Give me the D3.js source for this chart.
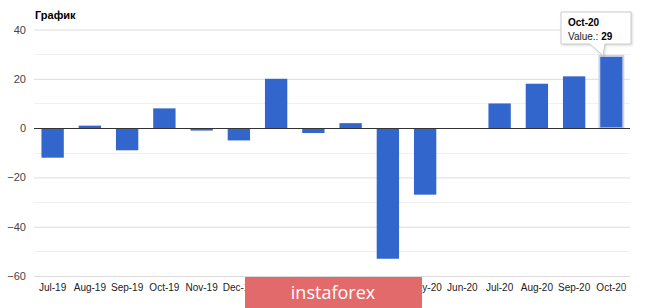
<!DOCTYPE html>
<html>
<head>
<meta charset="utf-8">
<script src="https://cdn.jsdelivr.net/npm/d3@7"></script>
<style>
  body { margin: 0; background: #fff; }
  svg { display: block; font-family: Arial, "Liberation Sans", sans-serif; }
</style>
</head>
<body>
<svg id="chart"></svg>
<script>
// chart data
var months = ['Jul-19', 'Aug-19', 'Sep-19', 'Oct-19', 'Nov-19', 'Dec-19', 'Jan-20', 'Feb-20',
              'Mar-20', 'Apr-20', 'May-20', 'Jun-20', 'Jul-20', 'Aug-20', 'Sep-20', 'Oct-20'];
var values = [-12, 1, -9, 8, -1, -5, 20, -2, 2, -53, -27, 0, 10, 18, 21, 29];
var yTicks = [-60, -40, -20, 0, 20, 40];
var yMinorTicks = [-50, -30, -10, 10, 30];
var chartTitle = 'График';
var tipLabel = 'Value.: ';

var svgWidth = 665, svgHeight = 308;
var svg = d3.select('#chart').attr('width', svgWidth).attr('height', svgHeight);

var x = d3.scaleBand()
    .domain(months)
    .range([34, 630])
    .paddingInner(0.4)
    .paddingOuter(0.2);

var y = d3.scaleLinear()
    .domain([-60, 40])
    .range([276, 29.5]);

// minor grid
svg.append('g').selectAll('line')
    .data(yMinorTicks)
    .enter().append('line')
    .attr('x1', 34).attr('x2', 630)
    .attr('y1', function(d) { return Math.round(y(d)) + 0.5; })
    .attr('y2', function(d) { return Math.round(y(d)) + 0.5; })
    .attr('stroke', '#f0f0f0');

// major grid + labels
var yAxis = d3.axisLeft(y).tickValues(yTicks).tickSize(-596).tickPadding(8);
var gy = svg.append('g').attr('transform', 'translate(34,0)').call(yAxis);
gy.select('.domain').remove();
gy.selectAll('line').attr('stroke', '#dcdcdc');
gy.selectAll('text').attr('fill', '#444').style('font-size', '11px').attr('x', -8);

// bars
svg.append('g').selectAll('rect')
    .data(values)
    .enter().append('rect')
    .attr('x', function(d, i) { return x(months[i]); })
    .attr('width', x.bandwidth())
    .attr('y', function(d) { return y(Math.max(0, d)); })
    .attr('height', function(d) { return Math.abs(y(d) - y(0)); })
    .attr('fill', '#3366cc');

// highlight around last bar
var last = values.length - 1;
svg.append('rect')
    .attr('x', x(months[last]) - 1)
    .attr('y', y(values[last]) - 1)
    .attr('width', x.bandwidth() + 2)
    .attr('height', y(0) - y(values[last]) + 1)
    .attr('fill', 'none')
    .attr('stroke', '#c9d2e6')
    .attr('stroke-width', 1.5);

// zero line
svg.append('line')
    .attr('x1', 34).attr('x2', 630)
    .attr('y1', Math.round(y(0)) + 0.5).attr('y2', Math.round(y(0)) + 0.5)
    .attr('stroke', '#333');

// x labels
svg.append('g').selectAll('text')
    .data(months)
    .enter().append('text')
    .attr('x', function(d) { return x(d) + x.bandwidth() / 2; })
    .attr('y', 291)
    .attr('text-anchor', 'middle')
    .attr('fill', '#222')
    .style('font-size', '10px')
    .text(function(d) { return d; });

// title
svg.append('text')
    .attr('x', 35).attr('y', 19)
    .style('font-size', '11px')
    .style('font-weight', 'bold')
    .attr('fill', '#000')
    .text(chartTitle);

// tooltip
var tx = 561, ty = 12, tw = 70, th = 32;
var tip = svg.append('g');
var tipTop = y(values[last]);
tip.append('path')
    .attr('d', 'M' + tx + ',' + ty + 'H' + (tx + tw) + 'V' + (ty + th) + 'H' + 605 +
          'L' + 603 + ',' + (tipTop - 1) + 'L' + 590 + ',' + (ty + th) + 'H' + tx + 'Z')
    .attr('fill', '#fff')
    .attr('stroke', '#ccc')
    .style('filter', 'drop-shadow(1px 1px 1px rgba(0,0,0,0.15))');
tip.append('text')
    .attr('x', tx + 7).attr('y', ty + 14)
    .style('font-size', '10px').style('font-weight', 'bold').attr('fill', '#000')
    .text(months[last]);
var vt = tip.append('text')
    .attr('x', tx + 7).attr('y', ty + 28)
    .style('font-size', '10px').attr('fill', '#222');
vt.append('tspan').text(tipLabel);
vt.append('tspan').style('font-weight', 'bold').attr('fill', '#000').text(values[last]);

// watermark
var wm = svg.append('g');
wm.append('rect')
    .attr('x', 245).attr('y', 277)
    .attr('width', 177).attr('height', 31)
    .attr('fill', '#e26a6a');
wm.append('text')
    .attr('x', 333).attr('y', 299)
    .attr('text-anchor', 'middle')
    .attr('fill', '#fff')
    .style('font-family', '"Open Sans", sans-serif')
    .style('font-size', '18px')
    .text('instaforex');
</script>
</body>
</html>
